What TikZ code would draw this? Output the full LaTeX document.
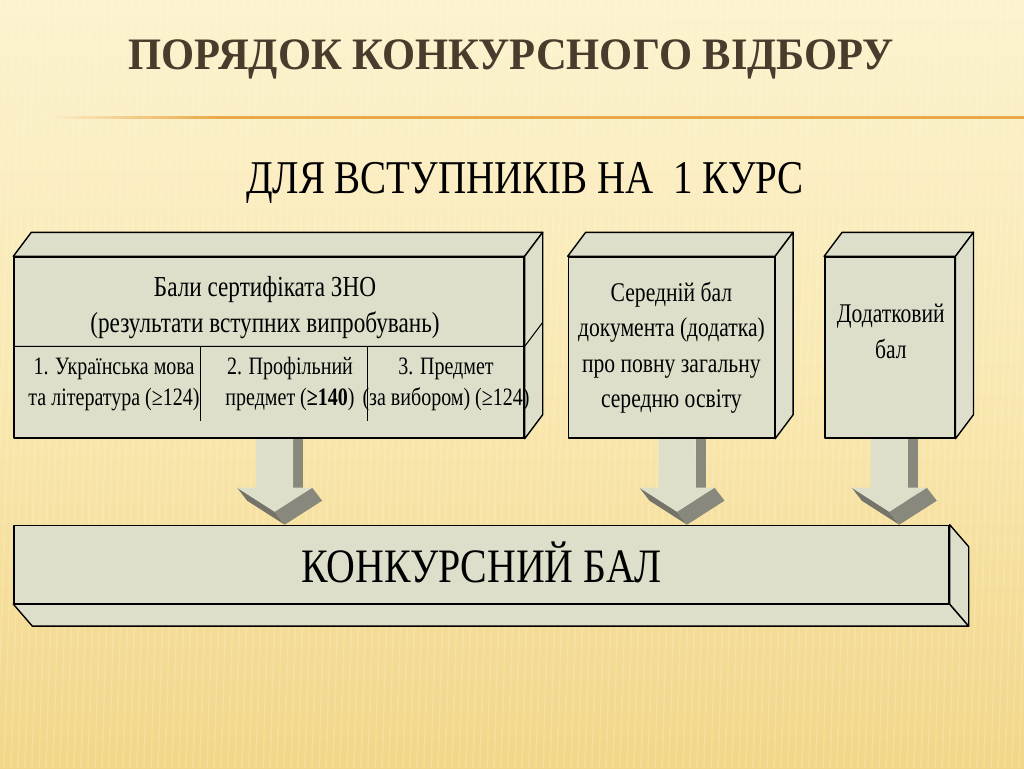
\documentclass[tikz,border=0pt]{standalone}
\usepackage{fontspec}
\setmainfont{Liberation Serif}
\newfontfamily\condfont[FakeStretch=0.8]{Liberation Serif}
\newfontfamily\headfont[FakeStretch=0.945]{Liberation Serif}
\newfontfamily\widefont[FakeStretch=0.83]{Liberation Serif}
\usetikzlibrary{calc, positioning}
\pgfdeclarelayer{back}
\pgfdeclarelayer{bg}
\pgfsetlayers{back,bg,main}

\definecolor{bgtop}{RGB}{252,242,206}
\definecolor{bgmid}{RGB}{249,232,176}
\definecolor{bgbottom}{RGB}{242,214,136}
\definecolor{rulecolor}{RGB}{233,168,72}
\definecolor{titlebrown}{RGB}{74,59,44}
\definecolor{boxface}{RGB}{221,223,203}
\definecolor{arrowside}{RGB}{136,136,124}
\definecolor{arrowdeep}{RGB}{116,116,106}

\tikzset{
  front/.style={draw=black, line width=1.4pt, fill=boxface, inner sep=0pt, line join=round},
  face/.style={draw=black, line width=1.4pt, fill=boxface, line join=round},
  divider/.style={draw=black, line width=1pt},
  titletext/.style={text=titlebrown, font=\headfont\bfseries\fontsize{45}{54}\selectfont},
  subtext/.style={font=\widefont\fontsize{47}{56}\selectfont},
  boxtext/.style={align=center, font=\condfont\fontsize{29}{36}\selectfont},
  subjtext/.style={align=center, font=\condfont\fontsize{25}{31}\selectfont},
  sidetext/.style={align=center, font=\condfont\fontsize{27}{35.5}\selectfont},
  baltext/.style={font=\widefont\fontsize{48}{58}\selectfont}
}

% top and right faces of a box
\newcommand{\boxtop}[1]{%
  \draw[face] (#1.north west) -- ++(18,-24) -- ($(#1.north east)+(18,-24)$) -- (#1.north east) -- cycle;
  \draw[face] (#1.north east) -- ++(18,-24) -- ($(#1.south east)+(18,-24)$) -- (#1.south east) -- cycle;
}

% block arrow from a start coordinate down to a node
\newcommand{\blockarrow}[2]{%
  \coordinate (ftip) at ($(#1 |- #2.north)+(0,-13)$);
  \fill[arrowside] ($(#1)+(18.5,0)$) rectangle ($(ftip)+(28.5,-11)$);
  \fill[arrowdeep] ($(ftip)+(-37.5,-24)$) -- (ftip) -- ($(ftip)+(10,13)$) -- ($(ftip)+(-27.5,-11)$) -- cycle;
  \fill[arrowside] ($(ftip)+(37.5,-24)$) -- ($(ftip)+(47.5,-11)$) -- ($(ftip)+(10,13)$) -- (ftip) -- cycle;
  \fill[boxface] ($(#1)+(-18.5,0)$) -- ($(ftip)+(-18.5,-24)$) -- ($(ftip)+(-37.5,-24)$) -- (ftip)
    -- ($(ftip)+(37.5,-24)$) -- ($(ftip)+(18.5,-24)$) -- ($(#1)+(18.5,0)$) -- cycle;
}

\begin{document}
\begin{tikzpicture}[x=1pt, y=-1pt]

	% background %
	\useasboundingbox (0,0) rectangle (1024,768);
	\begin{pgfonlayer}{back}
		\shade[top color=bgtop, bottom color=bgbottom, middle color=bgmid] (0,0) rectangle (1024,768);
		\foreach \x in {0,7,...,1060}
			\draw[white, opacity=0.16, line width=1.6pt] (\x,0) -- (\x-24,768);
		\shade[left color=bgtop, right color=rulecolor] (40,116) rectangle (220,118.5);
		\fill[rulecolor] (220,116) rectangle (1024,118.5);
	\end{pgfonlayer}

	% titles %
	\node[titletext, anchor=base] (title) at (511,70) {ПОРЯДОК КОНКУРСНОГО ВІДБОРУ};
	\node[subtext, anchor=base] (sub) at (525,193) {ДЛЯ ВСТУПНИКІВ НА~~1 КУРС};

	% boxes %
	\node[front, minimum width=510pt, minimum height=181pt] (zno) at (269,347.5) {};
	\node[front, sidetext, minimum width=206pt, minimum height=181pt, right=43pt of zno] (avg)
		{Середній бал\\документа (додатка)\\про повну загальну\\середню освіту};
	\node[front, minimum width=130pt, minimum height=181pt, right=49pt of avg] (dod) {};
	\node[front, minimum width=935pt, minimum height=78pt, anchor=north west] (bal)
		at ($(zno.south west)+(0,86)$) {};
	\boxtop{zno}
	\boxtop{avg}
	\boxtop{dod}
	\draw[face] (bal.south west) -- ++(19,22) -- ($(bal.south east)+(19,22)$) -- (bal.south east) -- cycle;
	\draw[face] (bal.north east) -- ++(19,22) -- ($(bal.south east)+(19,22)$) -- (bal.south east) -- cycle;

	% cells of the first box %
	\draw[divider] ($(zno.north west)+(0,90)$) coordinate (cutl) -- (cutl -| zno.east) -- ++(18,-24);
	\draw[divider] ($(cutl)+(187,0)$) -- ++(0,75);
	\draw[divider] ($(cutl)+(354,0)$) -- ++(0,75);

	% texts %
	\node[boxtext] (znotext) at (265,308) {Бали сертифіката ЗНО\\(результати вступних випробувань)};
	\node[subjtext] (subj1) at (114,384) {1. Українська мова\\та література (≥124)};
	\node[subjtext] (subj2) at (290,384) {2. Профільний\\предмет (\textbf{≥140})};
	\node[subjtext] (subj3) at (446,384) {3. Предмет\\(за вибором) (≥124)};
	\node[sidetext] (dodtext) at ($(dod)+(1,-16)$) {Додатковий\\бал};
	\node[baltext, anchor=base] (baltitle) at ($(bal.south)+(0,-22)$) {КОНКУРСНИЙ БАЛ};

	% arrows %
	\coordinate (a1) at ($(zno.south west)!0.511!(zno.south east)$);
	\coordinate (a2) at ($(avg.south west)!0.527!(avg.south east)$);
	\coordinate (a3) at ($(dod.south west)!0.496!(dod.south east)$);
	\begin{pgfonlayer}{bg}
		\blockarrow{a1}{bal}
		\blockarrow{a2}{bal}
		\blockarrow{a3}{bal}
	\end{pgfonlayer}

\end{tikzpicture}
\end{document}
